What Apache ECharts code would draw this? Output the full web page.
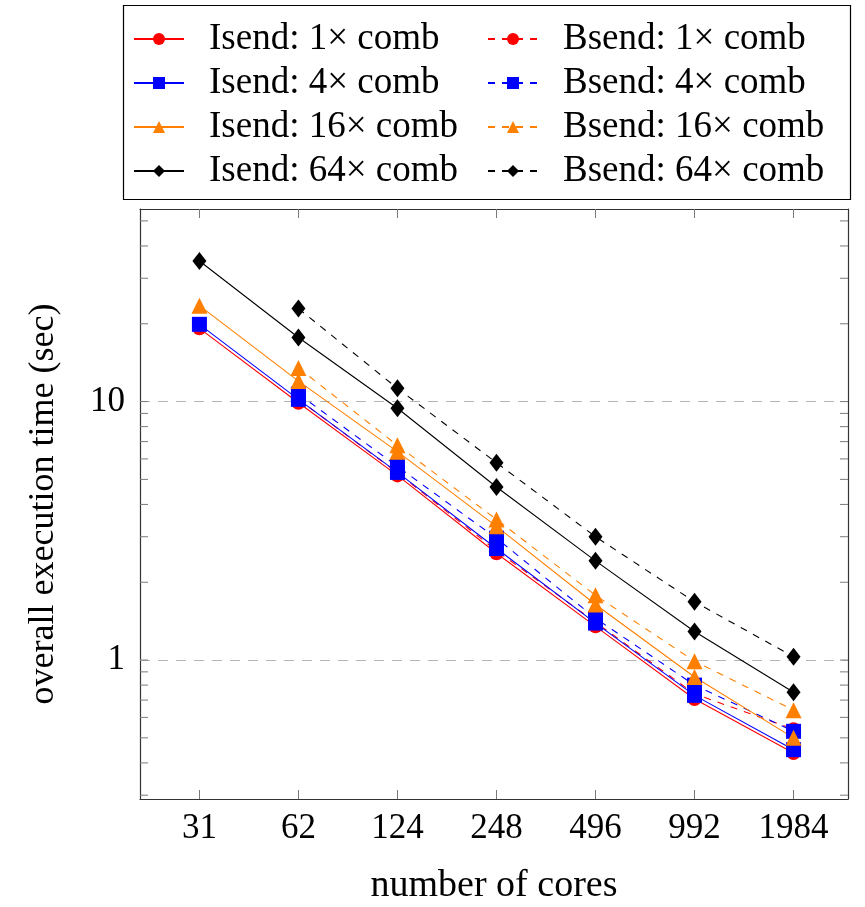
<!DOCTYPE html>
<html>
<head>
<meta charset="utf-8">
<script src="https://cdn.jsdelivr.net/npm/echarts@6/dist/echarts.min.js"></script>
<style>html,body{margin:0;padding:0;background:#fff;}#c{width:865px;height:907px;}</style>
</head>
<body>
<div id="c"></div>
<script>
const cores = ['31', '62', '124', '248', '496', '992', '1984'];
const isend1  = [19.2, 9.9, 5.18, 2.59, 1.35, 0.707, 0.437];
const bsend1  = [null, 10.2, 5.3, 2.65, 1.40, 0.74, 0.54];
const isend4  = [19.9, 10.2, 5.32, 2.70, 1.39, 0.73, 0.45];
const bsend4  = [null, 10.7, 5.61, 2.96, 1.45, 0.80, 0.53];
const isend16 = [23.5, 12.0, 6.4, 3.29, 1.64, 0.86, 0.50];
const bsend16 = [null, 13.5, 6.77, 3.50, 1.78, 0.99, 0.64];
const isend64 = [35.0, 17.7, 9.42, 4.67, 2.42, 1.29, 0.75];
const bsend64 = [null, 22.9, 11.25, 5.80, 3.00, 1.68, 1.03];
const yTickValues = [0.3,0.4,0.5,0.6,0.7,0.8,0.9,1,2,3,4,5,6,7,8,9,10,20,30,40,50];
const yLabelValues = [1, 10];

const FONT = 'Liberation Serif';
const xMin = -0.6, xMax = 6.55;
const yMin = 0.29, yMax = 55.6;
const xIdx = cores.map((c, i) => i);

function toData(arr) {
  const out = [];
  arr.forEach((v, i) => { if (v != null) out.push([i, v]); });
  return out;
}

const defs = [
  {name: 'Isend: 1\u00d7 comb',  d: isend1,  color: '#ff0000', sym: 'circle',   size: 14, dash: 'solid'},
  {name: 'Bsend: 1\u00d7 comb',  d: bsend1,  color: '#ff0000', sym: 'circle',   size: 14, dash: [7, 7]},
  {name: 'Isend: 4\u00d7 comb',  d: isend4,  color: '#0000ff', sym: 'rect',     size: 15, dash: 'solid'},
  {name: 'Bsend: 4\u00d7 comb',  d: bsend4,  color: '#0000ff', sym: 'rect',     size: 15, dash: [7, 7]},
  {name: 'Isend: 16\u00d7 comb', d: isend16, color: '#ff7f00', sym: 'triangle', size: 16, dash: 'solid'},
  {name: 'Bsend: 16\u00d7 comb', d: bsend16, color: '#ff7f00', sym: 'triangle', size: 16, dash: [7, 7]},
  {name: 'Isend: 64\u00d7 comb', d: isend64, color: '#000000', sym: 'diamond',  size: [14, 18], dash: 'solid'},
  {name: 'Bsend: 64\u00d7 comb', d: bsend64, color: '#000000', sym: 'diamond',  size: [14, 18], dash: [7, 7]}
];

const series = defs.map(s => ({
  type: 'line',
  name: s.name,
  data: toData(s.d),
  symbol: s.sym,
  symbolSize: s.size,
  showAllSymbol: true,
  color: s.color,
  lineStyle: {color: s.color, width: 1.1, type: s.dash},
  itemStyle: {color: s.color},
  emphasis: {disabled: true},
  animation: false,
  z: 3
}));

series[0].markLine = {
  silent: true,
  symbol: 'none',
  label: {show: false},
  lineStyle: {color: '#b4b4b4', type: [10, 8], width: 1},
  data: yLabelValues.map(v => ({yAxis: v})),
  animation: false,
  z: 1
};

series.push({
  type: 'custom',
  name: 'yticks',
  silent: true,
  animation: false,
  clip: false,
  data: yTickValues.map(v => [xMin, v]),
  renderItem: function (params, api) {
    const v = api.value(1);
    const p = api.coord([xMin, v]);
    const q = api.coord([xMax, v]);
    const len = 8;
    const st = {stroke: '#7a7a7a', lineWidth: 1};
    return {
      type: 'group',
      children: [
        {type: 'line', shape: {x1: p[0], y1: p[1], x2: p[0] + len, y2: p[1]}, style: st},
        {type: 'line', shape: {x1: q[0] - len, y1: q[1], x2: q[0], y2: q[1]}, style: st}
      ]
    };
  },
  z: 2
});

const legendCommon = {
  orient: 'vertical',
  top: 15,
  itemWidth: 50,
  itemHeight: 15,
  itemGap: 6,
  selectedMode: false,
  textStyle: {fontFamily: FONT, fontSize: 37, color: '#000', lineHeight: 38, padding: [0, 0, 0, 20]}
};

const option = {
  backgroundColor: '#fff',
  animation: false,
  legend: [
    Object.assign({}, legendCommon, {left: 128, data: defs.filter((d, i) => i % 2 === 0).map(d => d.name)}),
    Object.assign({}, legendCommon, {left: 482, data: defs.filter((d, i) => i % 2 === 1).map(d => d.name)})
  ],
  graphic: [{
    type: 'rect',
    left: 121, top: 3,
    shape: {width: 727, height: 194},
    style: {fill: 'none', stroke: '#000', lineWidth: 1.2},
    silent: true
  }],
  grid: {left: 140, top: 209, right: 17, bottom: 108, show: false, containLabel: false, outerBoundsMode: 'none'},
  xAxis: [{
    type: 'value',
    min: xMin, max: xMax,
    position: 'bottom',
    name: 'number of cores',
    nameLocation: 'middle',
    nameGap: 68,
    nameTextStyle: {fontFamily: FONT, fontSize: 38, color: '#000'},
    axisLine: {show: true, onZero: false, lineStyle: {color: '#333', width: 1.2}},
    axisTick: {show: true, inside: true, length: 9, customValues: xIdx, lineStyle: {color: '#7a7a7a'}},
    axisLabel: {customValues: xIdx, formatter: v => cores[Math.round(v)], margin: 12, fontFamily: FONT, fontSize: 35, color: '#000'},
    splitLine: {show: false}
  }, {
    type: 'value',
    min: xMin, max: xMax,
    position: 'top',
    axisLine: {show: true, onZero: false, lineStyle: {color: '#333', width: 1.2}},
    axisTick: {show: true, inside: true, length: 9, customValues: xIdx, lineStyle: {color: '#7a7a7a'}},
    axisLabel: {show: false},
    splitLine: {show: false}
  }],
  yAxis: [{
    type: 'log',
    logBase: 10,
    min: yMin, max: yMax,
    position: 'left',
    name: 'overall execution time (sec)',
    nameLocation: 'middle',
    nameGap: 78,
    nameRotate: 90,
    nameTextStyle: {fontFamily: FONT, fontSize: 36, color: '#000'},
    axisLine: {show: true, onZero: false, lineStyle: {color: '#333', width: 1.2}},
    axisTick: {show: false},
    axisLabel: {showMinLabel: false, showMaxLabel: false, margin: 15, fontFamily: FONT, fontSize: 35, color: '#000',
      formatter: v => String(Math.round(v * 1000) / 1000)},
    splitLine: {show: false}
  }, {
    type: 'log',
    logBase: 10,
    min: yMin, max: yMax,
    position: 'right',
    axisLine: {show: true, onZero: false, lineStyle: {color: '#333', width: 1.2}},
    axisTick: {show: false},
    axisLabel: {show: false},
    splitLine: {show: false}
  }],
  series: series
};

const chart = echarts.init(document.getElementById('c'), null, {renderer: 'canvas'});
chart.setOption(option);
</script>
</body>
</html>
